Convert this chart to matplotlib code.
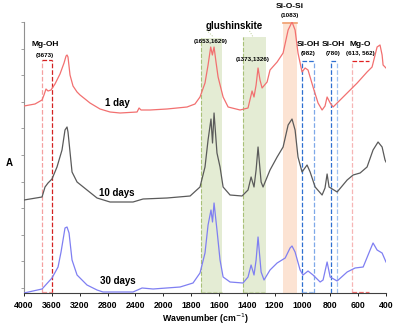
import matplotlib
matplotlib.use("Agg")
import matplotlib.pyplot as plt
import numpy as np

plt.rcParams['font.family'] = ['Liberation Sans Narrow', 'Liberation Sans', 'DejaVu Sans']

# FTIR spectra (absorbance, arbitrary units, offset per sample)
wn_1day = [4000, 3842, 3741, 3713, 3684, 3655, 3612, 3555, 3483, 3425, 3396, 3382, 3368, 3339,
           3296, 3238, 3195, 3123, 3052, 2980, 2908, 2764, 2620, 2376, 2347, 2319, 2189, 1973,
           1829, 1772, 1736, 1700, 1678, 1659, 1647, 1635, 1621, 1606, 1570, 1534, 1448, 1391,
           1362, 1348, 1333, 1319, 1305, 1290, 1254, 1233, 1182, 1139, 1103, 1075, 1053, 1032,
           1003, 981, 960, 924, 888, 859, 838, 823, 801, 780, 751, 679, 607, 536, 500, 464,
           443, 428, 421, 400]
abs_1day = [187, 189, 193, 198, 204, 202, 203, 209, 219, 230, 237, 238, 236, 218,
            207, 201, 198, 194, 190, 187, 184, 181, 180, 181, 185, 183, 183, 184,
            186, 189, 196, 210, 228, 246, 238, 246, 231, 216, 196, 186, 183, 185,
            202, 196, 208, 225, 213, 205, 211, 223, 231, 240, 263, 271, 263, 240,
            221, 225, 223, 206, 190, 183, 187, 196, 190, 186, 190, 200, 210, 221, 226, 246,
            248, 238, 228, 225]

wn_10day = [4000, 3741, 3698, 3655, 3598, 3526, 3454, 3411, 3382, 3368, 3310, 3238, 3095, 2951,
            2764, 2434, 2290, 1973, 1807, 1736, 1700, 1678, 1657, 1646, 1635, 1614, 1592, 1570,
            1520, 1434, 1391, 1369, 1348, 1333, 1319, 1297, 1283, 1233, 1182, 1139, 1103, 1075,
            1053, 1032, 1003, 967, 945, 909, 859, 838, 823, 809, 751, 679, 636, 586, 536, 493,
            457, 428, 407, 400]
abs_10day = [93, 96, 106, 110, 114, 126, 143, 163, 166, 161, 121, 111, 103, 95,
             91, 91, 94, 95, 97, 106, 126, 153, 174, 150, 180, 140, 126, 106,
             98, 97, 103, 116, 106, 123, 146, 111, 106, 123, 136, 146, 168, 174,
             163, 136, 121, 128, 121, 106, 98, 105, 119, 106, 101, 113, 118, 120, 126, 143,
             151, 146, 133, 131]

wn_30day = [4000, 3741, 3598, 3511, 3468, 3411, 3382, 3353, 3310, 3238, 3095, 2951, 2865, 2434,
            2304, 2146, 1879, 1786, 1736, 1700, 1678, 1657, 1646, 1635, 1614, 1592, 1570, 1520,
            1427, 1391, 1369, 1348, 1333, 1319, 1297, 1276, 1233, 1182, 1124, 1089, 1075, 1053,
            1017, 996, 960, 924, 873, 852, 823, 801, 751, 679, 622, 564, 514, 493, 464, 428, 400]
abs_30day = [0, 4, 15, 26, 41, 65, 66, 60, 33, 18, 8, 3, 1, 1,
             5, 4, 6, 10, 20, 40, 68, 83, 71, 90, 63, 33, 16, 11,
             10, 16, 28, 18, 33, 56, 21, 13, 23, 30, 35, 45, 47, 41,
             23, 18, 22, 18, 11, 13, 31, 16, 12, 21, 25, 26, 43, 50, 43, 40, 31]

sample_labels = ['1 day', '10 days', '30 days']
label_pos = [(2664, 190), (2664, 100), (2649, 12)]
colors = ['#f27070', '#5a5a5a', '#7f7ff2']

x_ticks = [4000, 3600, 3200, 2800, 2400, 2000, 1800, 1600, 1400, 1200, 1000, 800, 600, 400]


# spectrometer style x axis: region above 2000 cm-1 is compressed 2x
def fwd(w):
    w = np.asarray(w, dtype=float)
    return np.where(w > 2000, 2000 + (w - 2000) / 2.0, w)


def inv(u):
    u = np.asarray(u, dtype=float)
    return np.where(u > 2000, 2000 + (u - 2000) * 2.0, u)


fig = plt.figure(figsize=(3.97, 3.29), dpi=100)
ax = fig.add_axes([24 / 397, 36 / 329, 362 / 397, 271 / 329])
ax.set_xscale('function', functions=(fwd, inv))
ax.set_xlim(4000, 400)
ax.set_ylim(0, 271)

# shaded band regions
ax.axvspan(1575, 1730, ymax=255 / 271, color='#e4ecd4', lw=0, zorder=0)
ax.axvspan(1265, 1430, ymax=256 / 271, color='#e4ecd4', lw=0, zorder=0)
ax.axvspan(1040, 1140, ymax=1, color='#fce3d3', lw=0, zorder=0)
ax.plot([1140, 1040], [270, 270], color='#f0a070', lw=1.2, zorder=1)
ax.plot([1730, 1730], [0, 255], color='#a8c078', lw=0.8, ls='--', zorder=1)
ax.plot([1430, 1430], [0, 256], color='#a8c078', lw=0.8, ls='--', zorder=1)
ax.plot([1730, 1575], [1, 1], color='#c8d8a8', lw=0.8, ls='--', zorder=1)
ax.plot([1430, 1265], [1, 1], color='#c8d8a8', lw=0.8, ls='--', zorder=1)

# dashed boxes
ax.plot([3740, 3740], [0, 233], color='#f5a0a0', lw=0.9, ls='--')
ax.plot([3600, 3600], [0, 233], color='#d42020', lw=0.9, ls='--')
ax.plot([3740, 3600], [233, 233], color='#d42020', lw=0.9, ls='--')
ax.plot([3740, 3600], [1, 1], color='#f5a0a0', lw=0.9, ls='--')

ax.plot([1005, 1005], [0, 232], color='#2d6fd0', lw=0.9, ls='--')
ax.plot([915, 915], [0, 232], color='#7ea8e8', lw=0.9, ls='--')
ax.plot([1005, 915], [232, 232], color='#2d6fd0', lw=0.9, ls='--')
ax.plot([1005, 915], [1, 1], color='#9ec0f0', lw=0.9, ls='--')

ax.plot([795, 795], [0, 232], color='#2d6fd0', lw=0.9, ls='--')
ax.plot([750, 750], [0, 232], color='#9ec0f0', lw=0.9, ls='--')
ax.plot([795, 750], [232, 232], color='#2d6fd0', lw=0.9, ls='--')

ax.plot([645, 645], [0, 232], color='#f7b5b5', lw=0.9, ls='--')
ax.plot([645, 520], [232, 232], color='#e02020', lw=0.9, ls='--')
ax.plot([645, 520], [1, 1], color='#f07070', lw=0.9, ls='--')

# spectra
ax.plot(wn_1day, abs_1day, color=colors[0], lw=0.9, zorder=3)
ax.plot(wn_10day, abs_10day, color=colors[1], lw=0.9, zorder=3)
ax.plot(wn_30day, abs_30day, color=colors[2], lw=0.9, zorder=3)

for lab, (x, y), in zip(sample_labels, label_pos):
    ax.text(x, y, lab, fontsize=7, ha='center', va='center', fontweight='bold')

# band labels
small = 4.5
ax.text(3698, 248, 'Mg-OH', fontsize=6, ha='center', va='center', fontweight='bold')
ax.text(3698, 238, '(3673)', fontsize=small, ha='center', va='center', fontweight='bold')
ax.text(1491, 267, 'glushinskite', fontsize=7, ha='center', va='center', fontweight='bold')
ax.plot([1690, 1640], [263, 256], color='#b8cc90', lw=0.7, ls=':')
ax.plot([1380, 1355], [262, 256], color='#b8cc90', lw=0.7, ls=':')
ax.text(1657, 251, '(1653,1629)', fontsize=small, ha='center', va='center', fontweight='bold')
ax.text(1355, 233, '(1373,1326)', fontsize=small, ha='center', va='center', fontweight='bold')
ax.text(1089, 287, 'Si-O-Si', fontsize=6, ha='center', va='center', fontweight='bold')
ax.text(1089, 277, '(1083)', fontsize=small, ha='center', va='center', fontweight='bold')
ax.text(960, 249, 'Si-OH', fontsize=6, ha='center', va='center', fontweight='bold')
ax.text(960, 239, '(982)', fontsize=small, ha='center', va='center', fontweight='bold')
ax.text(780, 249, 'Si-OH', fontsize=6, ha='center', va='center', fontweight='bold')
ax.text(780, 239, '(780)', fontsize=small, ha='center', va='center', fontweight='bold')
ax.text(586, 249, 'Mg-O', fontsize=6, ha='center', va='center', fontweight='bold')
ax.text(586, 239, '(613, 562)', fontsize=small, ha='center', va='center', fontweight='bold')

# axes styling
ax.spines['top'].set_visible(False)
ax.spines['right'].set_visible(False)
ax.spines['left'].set_color('#909090')
ax.spines['left'].set_linewidth(0.8)
ax.spines['bottom'].set_color('#404040')
ax.spines['bottom'].set_linewidth(0.8)
ax.set_xticks(x_ticks)
ax.set_xticklabels([str(t) for t in x_ticks], fontsize=6.3, fontweight='bold')
ax.xaxis.set_minor_locator(matplotlib.ticker.NullLocator())
ax.set_yticks([5 + 26.6 * k for k in range(11)])
ax.set_yticklabels([])
ax.tick_params(axis='y', length=2, width=0.6, color='#909090', direction='out')
ax.tick_params(axis='x', length=2, width=0.6, pad=4)
ax.set_xlabel('Wavenumber (cm$^{-1}$)', fontsize=6.3, fontweight='bold', labelpad=1)
fig.text(9 / 397, 1 - 163 / 329, 'A', fontsize=7, ha='center', va='center', fontweight='bold')

fig.savefig('out.png', dpi=100)
